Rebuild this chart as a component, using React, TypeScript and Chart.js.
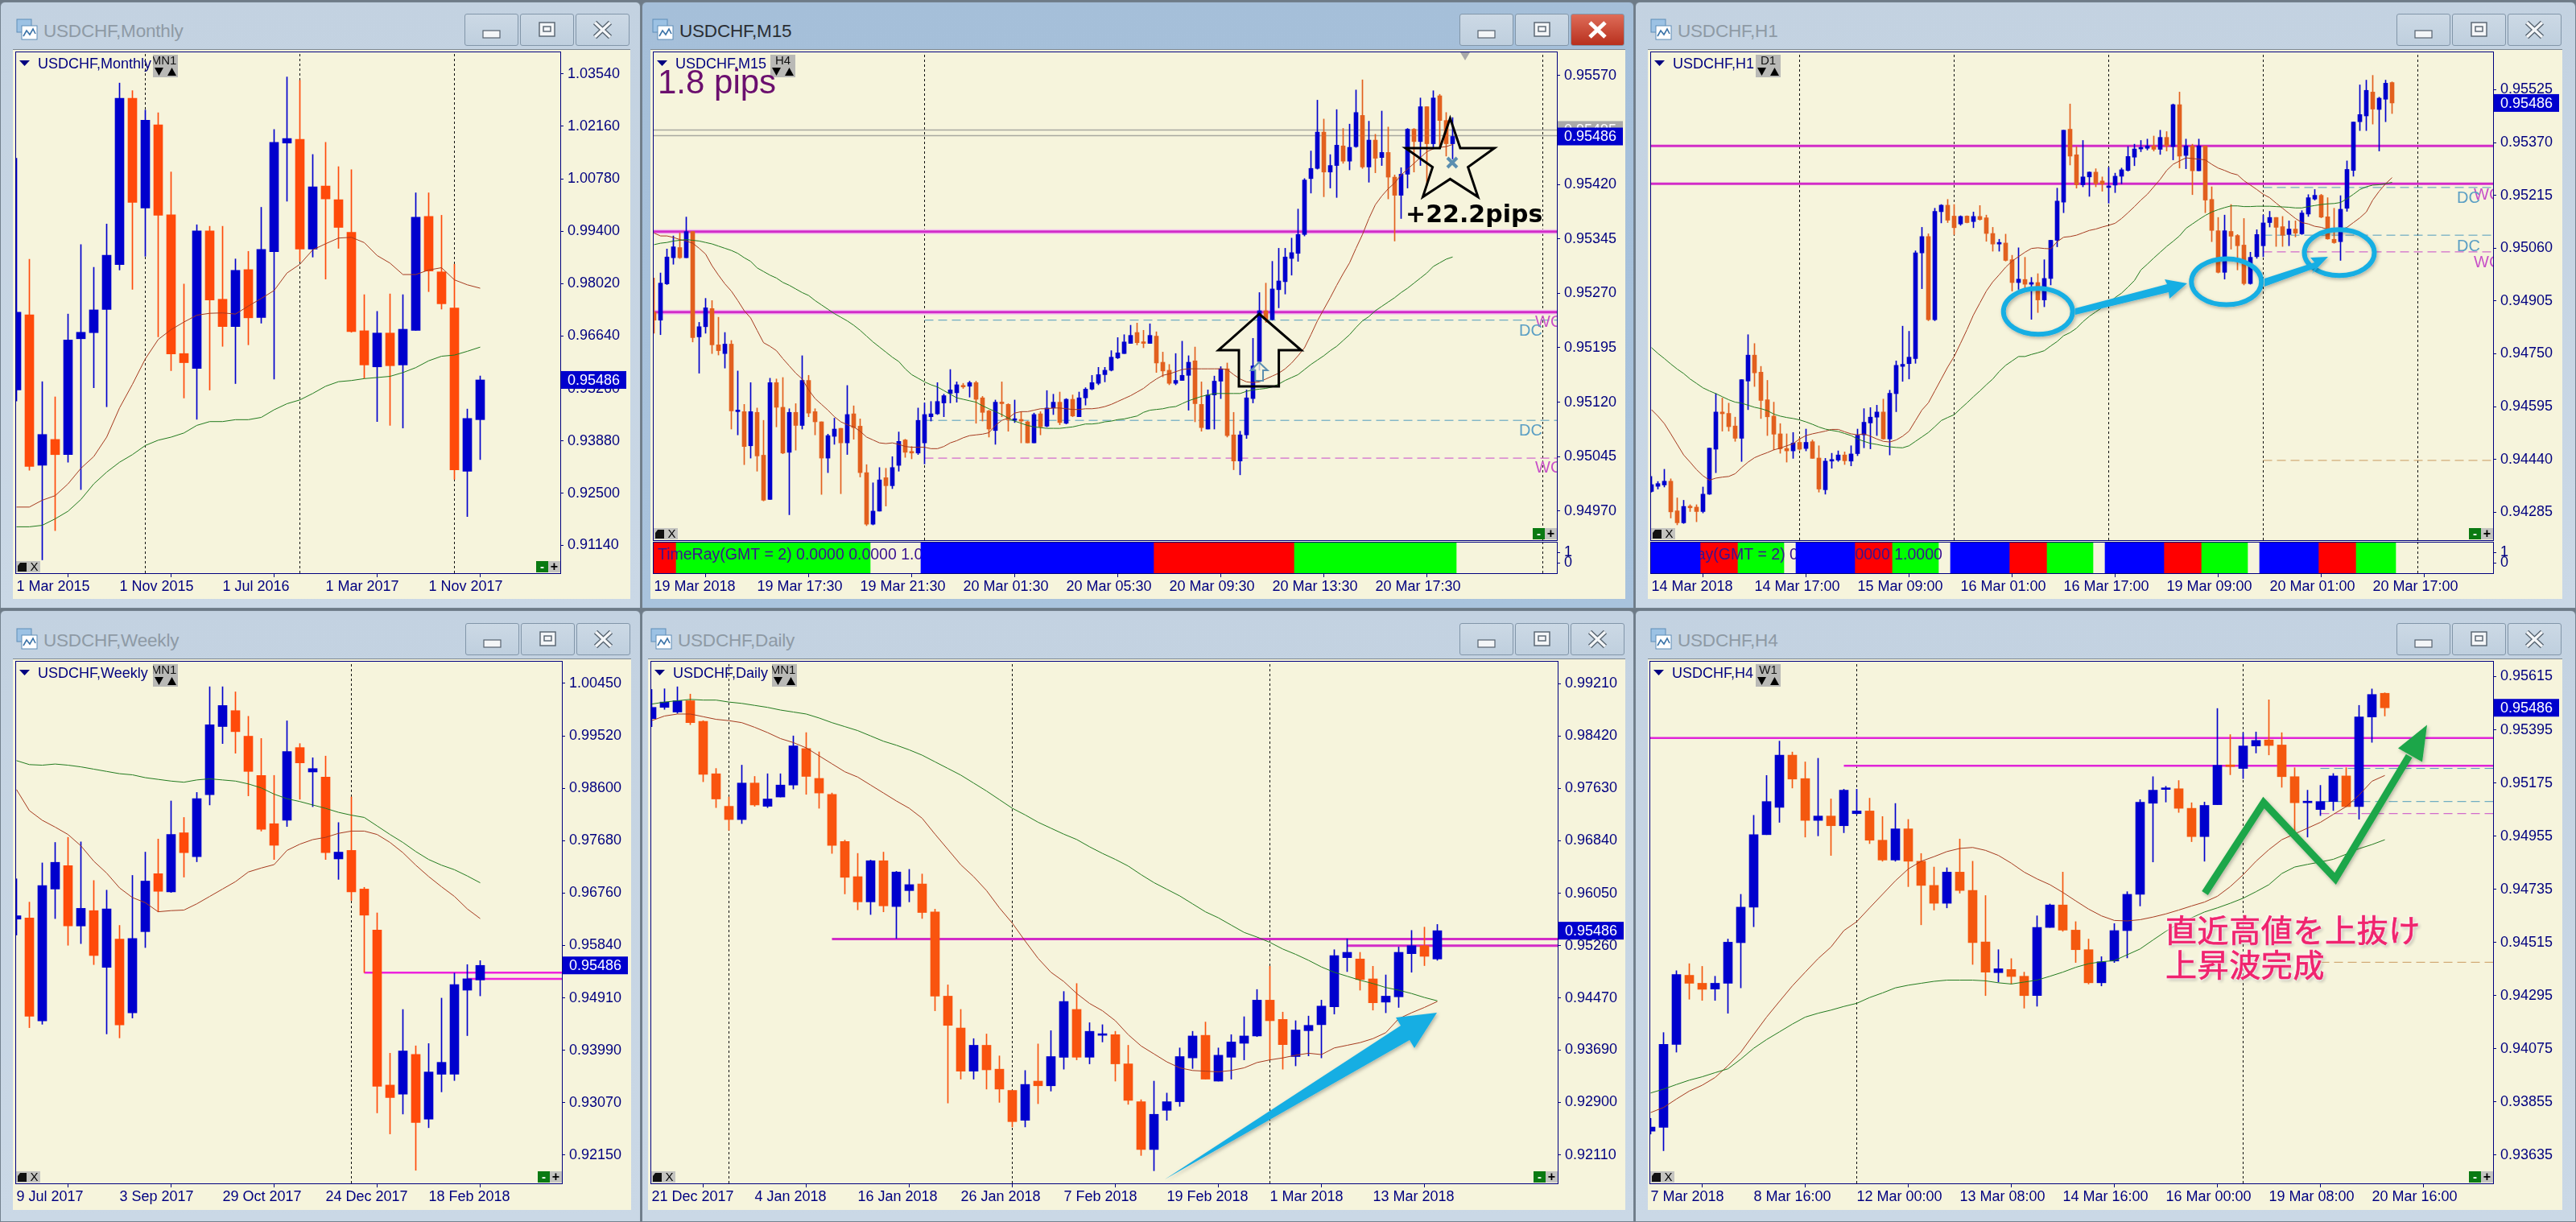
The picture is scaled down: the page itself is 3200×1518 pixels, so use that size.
import React, { useEffect, useRef } from "react";
import { Chart, registerables } from "chart.js";

Chart.register(...registerables);

type Candle = [number, number, number, number]; // open, high, low, close

const LAST_PRICE = 0.95486;
const M15_ASK_PRICE = 0.95495;

/* ---------- Monthly ---------- */
const monthlyCandles: Candle[] = [
  [0.9522,1.0132,0.9493,0.9727],[0.9720,0.9866,0.9311,0.9321],[0.9324,0.9544,0.9075,0.9405],[0.9392,0.9504,0.9152,0.9352],
  [0.9352,0.9722,0.9332,0.9654],[0.9657,0.9905,0.9260,0.9674],[0.9673,0.9845,0.9528,0.9733],[0.9734,0.9959,0.9478,0.9877],
  [0.9852,1.0330,0.9838,1.0290],[1.0290,1.0310,0.9787,1.0016],[1.0001,1.0259,0.9874,1.0232],[1.0220,1.0252,0.9662,0.9982],
  [0.9983,1.0096,0.9573,0.9617],[0.9618,0.9801,0.9501,0.9594],[0.9579,0.9957,0.9445,0.9941],[0.9941,0.9953,0.9522,0.9759],
  [0.9761,0.9953,0.9637,0.9689],[0.9689,0.9867,0.9539,0.9837],[0.9839,0.9887,0.9641,0.9712],[0.9713,1.0003,0.9698,0.9892],
  [0.9886,1.0208,0.9551,1.0174],[1.0172,1.0346,1.0019,1.0184],[1.0182,1.0337,0.9861,0.9893],[0.9893,1.0142,0.9872,1.0057],
  [1.0059,1.0174,0.9814,1.0025],[1.0023,1.0110,0.9895,0.9950],[0.9937,1.0102,0.9674,0.9676],[0.9678,0.9773,0.9553,0.9588],
  [0.9583,0.9729,0.9439,0.9672],[0.9672,0.9775,0.9429,0.9586],[0.9588,0.9773,0.9422,0.9682],[0.9679,1.0041,0.9679,0.9977],
  [0.9979,1.0041,0.9781,0.9835],[0.9833,0.9982,0.9735,0.9749],[0.9738,0.9853,0.9287,0.9312],[0.9308,0.9472,0.9189,0.9447],
  [0.9444,0.9559,0.9339,0.95486],
];
const monthlyFastMa = [0.9214,0.9214,0.9232,0.9244,0.9275,0.9316,0.9347,0.9398,0.9475,0.9537,0.9604,0.9655,0.9681,0.9701,0.9719,0.9724,0.9725,0.9722,0.9743,0.9763,0.9784,0.9830,0.9853,0.9891,0.9907,0.9922,0.9924,0.9910,0.9876,0.9856,0.9826,0.9826,0.9838,0.9844,0.9812,0.9799,0.9790];
const monthlySlowMa = [0.9162,0.9162,0.9166,0.9183,0.9203,0.9234,0.9275,0.9306,0.9332,0.9352,0.9376,0.9390,0.9398,0.9409,0.9429,0.9439,0.9439,0.9444,0.9444,0.9450,0.9470,0.9486,0.9496,0.9513,0.9532,0.9544,0.9547,0.9552,0.9555,0.9558,0.9568,0.9581,0.9599,0.9611,0.9614,0.9624,0.9635];
const monthlyYTicks = [1.0354,1.0216,1.0078,0.994,0.9802,0.9664,0.9526,0.9388,0.925,0.9114];
const monthlyXLabels = ["1 Mar 2015","1 Nov 2015","1 Jul 2016","1 Mar 2017","1 Nov 2017"];

/* ---------- Weekly ---------- */
const weeklyCandles: Candle[] = [
  [0.9630,0.9701,0.9602,0.9636],[0.9632,0.9660,0.9439,0.9459],[0.9451,0.9729,0.9445,0.9689],[0.9683,0.9765,0.9631,0.9730],
  [0.9724,0.9774,0.9584,0.9618],[0.9618,0.9766,0.9587,0.9649],[0.9645,0.9698,0.9550,0.9566],[0.9545,0.9681,0.9428,0.9648],
  [0.9595,0.9619,0.9421,0.9444],[0.9465,0.9707,0.9456,0.9596],[0.9608,0.9748,0.9580,0.9697],[0.9710,0.9771,0.9643,0.9679],
  [0.9678,0.9838,0.9677,0.9779],[0.9782,0.9809,0.9704,0.9747],[0.9740,0.9853,0.9731,0.9842],[0.9849,1.0039,0.9831,0.9972],
  [0.9969,1.0039,0.9939,1.0006],[0.9997,1.0030,0.9922,0.9960],[0.9952,0.9987,0.9847,0.9890],[0.9883,0.9948,0.9785,0.9788],
  [0.9798,0.9883,0.9735,0.9760],[0.9804,0.9979,0.9793,0.9925],[0.9932,0.9939,0.9841,0.9905],[0.9889,0.9914,0.9828,0.9895],
  [0.9880,0.9917,0.9735,0.9747],[0.9736,0.9800,0.9700,0.9748],[0.9751,0.9845,0.9663,0.9678],[0.9683,0.9686,0.9536,0.9637],
  [0.9611,0.9641,0.9289,0.9336],[0.9338,0.9394,0.9252,0.9316],[0.9322,0.9471,0.9287,0.9398],[0.9392,0.9407,0.9188,0.9272],
  [0.9278,0.9411,0.9263,0.9361],[0.9357,0.9491,0.9326,0.9378],[0.9357,0.9535,0.9346,0.9515],[0.9505,0.9550,0.9425,0.9525],
  [0.9523,0.9557,0.9495,0.95486],
];
const weeklyFastMa = [0.9858,0.9821,0.9804,0.9792,0.9779,0.9759,0.9732,0.9711,0.9685,0.9668,0.9659,0.9643,0.9645,0.9646,0.9657,0.9670,0.9683,0.9696,0.9713,0.9720,0.9726,0.9751,0.9762,0.9770,0.9774,0.9781,0.9785,0.9785,0.9779,0.9765,0.9747,0.9725,0.9705,0.9687,0.9670,0.9648,0.9631];
const weeklySlowMa = [0.9909,0.9902,0.9901,0.9903,0.9901,0.9898,0.9894,0.9890,0.9886,0.9884,0.9879,0.9876,0.9873,0.9871,0.9875,0.9877,0.9875,0.9873,0.9868,0.9861,0.9850,0.9842,0.9837,0.9831,0.9825,0.9818,0.9813,0.9809,0.9794,0.9779,0.9765,0.9749,0.9735,0.9725,0.9717,0.9706,0.9694];
const weeklyYTicks = [1.0045,0.9952,0.986,0.9768,0.9676,0.9584,0.9491,0.9399,0.9307,0.9215];
const weeklyXLabels = ["9 Jul 2017","3 Sep 2017","29 Oct 2017","24 Dec 2017","18 Feb 2018"];

/* ---------- Daily ---------- */
const dailyCandles: Candle[] = [
  [0.9868,0.9912,0.9856,0.9885],[0.9885,0.9913,0.9882,0.9893],[0.9878,0.9916,0.9876,0.9895],[0.9895,0.9905,0.9859,0.9862],
  [0.9864,0.9865,0.9773,0.9784],[0.9785,0.9793,0.9734,0.9747],[0.9736,0.9750,0.9700,0.9716],[0.9716,0.9798,0.9710,0.9771],
  [0.9771,0.9781,0.9736,0.9738],[0.9736,0.9785,0.9734,0.9747],[0.9750,0.9785,0.9750,0.9768],[0.9768,0.9842,0.9762,0.9827],
  [0.9823,0.9847,0.9754,0.9781],[0.9778,0.9818,0.9733,0.9756],[0.9754,0.9756,0.9665,0.9677],[0.9683,0.9685,0.9604,0.9629],
  [0.9630,0.9665,0.9580,0.9592],[0.9592,0.9655,0.9573,0.9654],[0.9654,0.9667,0.9577,0.9586],[0.9585,0.9638,0.9537,0.9637],
  [0.9609,0.9641,0.9592,0.9618],[0.9619,0.9634,0.9567,0.9576],[0.9577,0.9581,0.9428,0.9450],[0.9450,0.9467,0.9289,0.9406],
  [0.9402,0.9430,0.9325,0.9337],[0.9337,0.9386,0.9325,0.9376],[0.9376,0.9393,0.9310,0.9339],[0.9340,0.9360,0.9290,0.9310],
  [0.9308,0.9308,0.9253,0.9261],[0.9263,0.9338,0.9253,0.9317],[0.9322,0.9378,0.9288,0.9315],[0.9315,0.9398,0.9307,0.9359],
  [0.9358,0.9457,0.9340,0.9442],[0.9430,0.9469,0.9354,0.9358],[0.9358,0.9410,0.9348,0.9397],[0.9391,0.9407,0.9381,0.9393],
  [0.9392,0.9397,0.9322,0.9348],[0.9348,0.9376,0.9287,0.9293],[0.9291,0.9294,0.9210,0.9219],[0.9219,0.9322,0.9187,0.9272],
  [0.9278,0.9304,0.9263,0.9291],[0.9291,0.9372,0.9284,0.9359],[0.9357,0.9397,0.9341,0.9390],[0.9391,0.9411,0.9325,0.9325],
  [0.9322,0.9372,0.9322,0.9361],[0.9358,0.9392,0.9325,0.9381],[0.9379,0.9419,0.9354,0.9390],[0.9390,0.9460,0.9389,0.9444],
  [0.9444,0.9495,0.9354,0.9413],[0.9415,0.9426,0.9340,0.9377],[0.9359,0.9413,0.9345,0.9399],[0.9398,0.9420,0.9360,0.9406],
  [0.9407,0.9444,0.9357,0.9435],[0.9434,0.9520,0.9423,0.9511],[0.9508,0.9536,0.9487,0.9516],[0.9506,0.9516,0.9459,0.9475],
  [0.9476,0.9495,0.9429,0.9440],[0.9441,0.9482,0.9425,0.9450],[0.9449,0.9524,0.9433,0.9516],[0.9514,0.9549,0.9486,0.9526],
  [0.9526,0.9554,0.9496,0.9510],[0.9506,0.9558,0.9504,0.95486],
];
const dailyFastMa = [0.9865,0.9872,0.9875,0.9875,0.9871,0.9867,0.9865,0.9862,0.9855,0.9847,0.9838,0.9832,0.9824,0.9812,0.9800,0.9788,0.9780,0.9768,0.9756,0.9744,0.9733,0.9718,0.9694,0.9671,0.9648,0.9630,0.9609,0.9583,0.9560,0.9533,0.9507,0.9486,0.9472,0.9454,0.9439,0.9428,0.9413,0.9392,0.9375,0.9363,0.9351,0.9342,0.9338,0.9337,0.9336,0.9338,0.9342,0.9350,0.9354,0.9357,0.9361,0.9364,0.9362,0.9372,0.9376,0.9380,0.9386,0.9395,0.9416,0.9425,0.9433,0.9442];
const dailySlowMa = [0.9890,0.9893,0.9895,0.9897,0.9896,0.9896,0.9893,0.9891,0.9888,0.9885,0.9881,0.9878,0.9875,0.9869,0.9862,0.9856,0.9850,0.9842,0.9834,0.9828,0.9821,0.9813,0.9803,0.9793,0.9783,0.9771,0.9759,0.9746,0.9733,0.9723,0.9712,0.9703,0.9694,0.9686,0.9675,0.9665,0.9656,0.9646,0.9633,0.9621,0.9611,0.9601,0.9589,0.9577,0.9568,0.9557,0.9546,0.9539,0.9531,0.9521,0.9513,0.9504,0.9494,0.9486,0.9480,0.9474,0.9469,0.9463,0.9459,0.9454,0.9448,0.9443];
const dailyYTicks = [0.9921,0.9842,0.9763,0.9684,0.9605,0.9526,0.9447,0.9369,0.929,0.9211];
const dailyXLabels = ["21 Dec 2017","4 Jan 2018","16 Jan 2018","26 Jan 2018","7 Feb 2018","19 Feb 2018","1 Mar 2018","13 Mar 2018"];

/* ---------- H4 ---------- */
const h4Candles: Candle[] = [
  [0.93734,0.93787,0.93722,0.93751],[0.9375,0.94142,0.93653,0.94093],[0.94093,0.94398,0.94061,0.94382],[0.94379,0.94427,0.9428,0.94346],
  [0.94346,0.94416,0.94275,0.94321],[0.94322,0.94375,0.94275,0.94346],[0.94346,0.94529,0.94222,0.94516],[0.94514,0.94714,0.94327,0.94661],
  [0.94661,0.95041,0.9458,0.94961],[0.94961,0.95206,0.94961,0.95098],[0.95074,0.95348,0.95012,0.9529],[0.9529,0.95303,0.95154,0.95191],
  [0.95193,0.95262,0.94951,0.9502],[0.9502,0.95277,0.94956,0.95038],[0.95038,0.95109,0.94875,0.94998],[0.94998,0.95149,0.94969,0.95145],
  [0.95048,0.95149,0.95045,0.95059],[0.95059,0.95112,0.94924,0.94938],[0.94938,0.95036,0.94851,0.94856],[0.94856,0.9509,0.94851,0.94985],
  [0.94985,0.95024,0.94746,0.94851],[0.94851,0.94883,0.94588,0.94751],[0.94751,0.94827,0.94649,0.94677],[0.94677,0.94824,0.94658,0.94806],
  [0.94806,0.94943,0.94719,0.9473],[0.9473,0.94851,0.94424,0.94514],[0.94517,0.94709,0.94295,0.94392],[0.9439,0.94485,0.94351,0.94406],
  [0.94403,0.94448,0.94343,0.94374],[0.94375,0.94392,0.94243,0.94295],[0.94295,0.94625,0.94251,0.94577],[0.94577,0.94674,0.94577,0.9467],
  [0.9467,0.94806,0.94561,0.94566],[0.94566,0.94601,0.94432,0.94485],[0.94485,0.94529,0.94343,0.94348],[0.94348,0.94456,0.94335,0.94435],
  [0.94438,0.94593,0.94432,0.94564],[0.94564,0.94725,0.94451,0.94714],[0.94714,0.95106,0.94666,0.95095],[0.95091,0.95201,0.94848,0.95145],
  [0.95148,0.95161,0.95096,0.95153],[0.95151,0.95185,0.95053,0.9507],[0.9507,0.95093,0.94932,0.94953],[0.94953,0.95096,0.94851,0.95082],
  [0.95085,0.95483,0.95085,0.95248],[0.95249,0.95375,0.95209,0.95243],[0.95235,0.95383,0.95193,0.95328],[0.95328,0.95386,0.95299,0.95351],
  [0.95353,0.95519,0.95291,0.9533],[0.95332,0.95383,0.95157,0.95201],[0.95201,0.95238,0.94956,0.95093],[0.95093,0.95145,0.94951,0.95098],
  [0.95065,0.95165,0.9504,0.95098],[0.95098,0.95214,0.95061,0.95204],[0.95204,0.95238,0.95077,0.95077],[0.95077,0.95496,0.95025,0.95448],
  [0.95448,0.95564,0.95343,0.95541],[0.95546,0.95548,0.95452,0.95486],
];
const h4FastMa = [0.93811,0.93832,0.93867,0.939,0.93924,0.93956,0.94005,0.94061,0.94134,0.94206,0.94271,0.94335,0.94392,0.94448,0.94496,0.94564,0.94601,0.94658,0.94714,0.9477,0.94819,0.94851,0.9487,0.94891,0.94904,0.94908,0.94896,0.94875,0.94843,0.94806,0.94778,0.94754,0.94722,0.94687,0.94653,0.94625,0.94606,0.94604,0.94609,0.9462,0.94633,0.94649,0.94666,0.94682,0.94706,0.94746,0.94795,0.94851,0.94899,0.9494,0.94964,0.94988,0.95012,0.95045,0.95077,0.95125,0.95182,0.95206];
const h4SlowMa = [0.93892,0.93908,0.93927,0.93945,0.93959,0.93976,0.93992,0.94032,0.94077,0.94113,0.94145,0.94177,0.94206,0.94222,0.94235,0.9425,0.94263,0.94287,0.94306,0.94327,0.94338,0.94346,0.94354,0.94359,0.94359,0.94359,0.94356,0.94348,0.94343,0.94351,0.94359,0.94375,0.94392,0.94412,0.94427,0.94435,0.9444,0.94464,0.94488,0.94525,0.94561,0.94593,0.94617,0.94641,0.94658,0.94677,0.94698,0.94725,0.94754,0.948,0.94827,0.94838,0.94848,0.94859,0.9488,0.94903,0.9492,0.9494];
const h4YTicks = [0.95615,0.95395,0.95175,0.94955,0.94735,0.94515,0.94295,0.94075,0.93855,0.93635];
const h4XLabels = ["7 Mar 2018","8 Mar 16:00","12 Mar 00:00","13 Mar 08:00","14 Mar 16:00","16 Mar 00:00","19 Mar 08:00","20 Mar 16:00"];

/* ---------- M15 ---------- */
const m15Candles: Candle[] = [
  [0.95244,0.95291,0.95215,0.95233],[0.95233,0.95298,0.95213,0.95284],[0.95283,0.95331,0.95282,0.9532],[0.95319,0.95349,0.9531,0.95334],
  [0.95333,0.95353,0.95318,0.95319],[0.95319,0.95375,0.95319,0.95355],[0.95355,0.95355,0.95203,0.95209],[0.9521,0.9523,0.9516,0.95224],
  [0.95224,0.95263,0.95215,0.9525],[0.95249,0.9526,0.95187,0.95199],[0.95199,0.95237,0.95185,0.95191],[0.95187,0.95216,0.95167,0.952],
  [0.952,0.95205,0.95083,0.95108],[0.95107,0.95163,0.95075,0.95108],[0.95107,0.95117,0.95034,0.95059],[0.9506,0.95147,0.95043,0.95107],
  [0.95106,0.95112,0.95025,0.95046],[0.95047,0.95095,0.94984,0.94985],[0.94986,0.95153,0.94986,0.95147],[0.95147,0.95152,0.95086,0.95113],
  [0.95113,0.95154,0.95049,0.9505],[0.95051,0.95111,0.94965,0.95106],[0.95106,0.95118,0.95054,0.95088],[0.95088,0.95184,0.95083,0.9515],
  [0.9515,0.95157,0.951,0.95105],[0.95107,0.95111,0.95075,0.95093],[0.95093,0.95093,0.94993,0.95043],[0.95043,0.95076,0.95023,0.95074],
  [0.95073,0.95098,0.95062,0.95083],[0.95084,0.95084,0.94994,0.95064],[0.95064,0.95143,0.95048,0.95103],[0.95104,0.95115,0.95069,0.95085],
  [0.95087,0.95097,0.95017,0.95023],[0.95023,0.95034,0.9495,0.94952],[0.94952,0.95009,0.94951,0.9497],[0.9497,0.9503,0.9497,0.95013],
  [0.95016,0.95029,0.94977,0.95005],[0.95005,0.95045,0.95001,0.9503],[0.95033,0.95079,0.95025,0.95066],[0.95068,0.95069,0.95044,0.95051],
  [0.95052,0.95059,0.95042,0.9505],[0.9505,0.95112,0.95048,0.95095],[0.95064,0.95119,0.95035,0.95103],[0.951,0.95121,0.95094,0.95104],
  [0.95104,0.95147,0.95103,0.95121],[0.95119,0.95131,0.951,0.95129],[0.95132,0.95165,0.95119,0.95137],[0.95133,0.95148,0.9512,0.95144],
  [0.95143,0.95146,0.95139,0.95141],[0.95142,0.95149,0.95127,0.95147],[0.95147,0.95149,0.95091,0.95124],[0.95126,0.95128,0.95094,0.95106],
  [0.95108,0.95109,0.95072,0.95083],[0.95081,0.95123,0.95062,0.9512],[0.95119,0.95148,0.951,0.95118],[0.95117,0.95118,0.9508,0.95096],
  [0.95095,0.95123,0.95092,0.95097],[0.95096,0.95107,0.95064,0.95094],[0.95093,0.95094,0.95064,0.95064],[0.95064,0.95105,0.95064,0.95103],
  [0.95104,0.95107,0.95075,0.95086],[0.95087,0.95136,0.95086,0.95112],[0.95112,0.95131,0.95103,0.9512],[0.9512,0.95134,0.95089,0.95092],
  [0.95091,0.95125,0.9509,0.95124],[0.95124,0.9513,0.951,0.95101],[0.951,0.95134,0.951,0.95126],[0.95126,0.9514,0.95116,0.95138],
  [0.95138,0.95157,0.95137,0.95147],[0.95146,0.95168,0.95144,0.95158],[0.95158,0.95168,0.95148,0.95164],[0.95164,0.95191,0.95163,0.95182],
  [0.95181,0.95209,0.9518,0.95188],[0.95187,0.95213,0.95187,0.95203],[0.95201,0.95226,0.95201,0.95212],[0.95216,0.95229,0.95199,0.95202],
  [0.95202,0.95219,0.95195,0.95201],[0.95201,0.95228,0.95201,0.95212],[0.95211,0.95217,0.95161,0.95174],[0.95175,0.95189,0.95155,0.95163],
  [0.95164,0.95172,0.95144,0.95146],[0.95146,0.95187,0.95144,0.9515],[0.9515,0.95204,0.9515,0.95157],[0.95157,0.95184,0.95109,0.95175],
  [0.95177,0.95196,0.95093,0.95118],[0.95117,0.95148,0.9508,0.95085],[0.95083,0.95137,0.95083,0.9513],[0.9513,0.95156,0.95083,0.95149],
  [0.95149,0.95169,0.95125,0.95166],[0.95166,0.95174,0.95072,0.95074],[0.95075,0.95106,0.95027,0.95039],[0.95039,0.9508,0.9502,0.95075],
  [0.95075,0.95137,0.9507,0.95126],[0.95125,0.95208,0.95119,0.9517],[0.95176,0.95271,0.95164,0.95246],[0.95246,0.95284,0.9523,0.95234],
  [0.95234,0.95314,0.95233,0.95276],[0.95275,0.95332,0.9525,0.95287],[0.95286,0.95332,0.95269,0.9532],[0.95318,0.95346,0.95295,0.95326],
  [0.95325,0.95386,0.95314,0.95351],[0.95351,0.95428,0.95349,0.95426],[0.95428,0.95466,0.95408,0.95442],[0.95442,0.95536,0.95441,0.95492],
  [0.95492,0.9551,0.95403,0.95437],[0.95437,0.95461,0.95415,0.95446],[0.95446,0.95523,0.95402,0.95474],[0.95473,0.95497,0.95449,0.95452],
  [0.95452,0.95503,0.9544,0.95471],[0.95472,0.9555,0.95471,0.95519],[0.95515,0.95564,0.95442,0.95444],[0.95444,0.95507,0.95423,0.95481],
  [0.95481,0.95489,0.95436,0.95456],[0.95457,0.95521,0.95446,0.95464],[0.95464,0.95499,0.954,0.9543],[0.9543,0.95433,0.95342,0.95405],
  [0.95405,0.95443,0.95373,0.95434],[0.95434,0.95497,0.95415,0.95496],[0.95496,0.95497,0.95437,0.95479],[0.95479,0.95539,0.95446,0.95527],
  [0.95527,0.95527,0.95418,0.95476],[0.95476,0.95549,0.95469,0.95539],[0.95542,0.95544,0.95469,0.95508],[0.95508,0.95519,0.95459,0.95476],
  [0.95476,0.95512,0.95455,0.95486],
];
const m15FastMa = [0.95353,0.95349,0.95349,0.95347,0.95344,0.95342,0.95339,0.95332,0.95324,0.95308,0.95295,0.95283,0.95273,0.9526,0.95246,0.95236,0.95219,0.95202,0.95197,0.95191,0.9518,0.9517,0.9516,0.95152,0.95137,0.95125,0.95117,0.95109,0.951,0.95093,0.95089,0.95086,0.9508,0.95072,0.95068,0.95064,0.95063,0.95064,0.95062,0.95059,0.95058,0.95058,0.95058,0.95056,0.95056,0.95059,0.95064,0.95067,0.95071,0.95074,0.95075,0.95076,0.95078,0.95088,0.95095,0.95098,0.95105,0.95107,0.95107,0.95109,0.95111,0.95111,0.95112,0.95112,0.95111,0.9511,0.9511,0.95111,0.95111,0.95112,0.95114,0.95117,0.95121,0.95125,0.95129,0.95134,0.95139,0.95146,0.95152,0.95157,0.95159,0.95162,0.95165,0.95166,0.95166,0.95166,0.95166,0.95166,0.95166,0.95165,0.95158,0.95152,0.95148,0.95147,0.95148,0.95152,0.95156,0.9516,0.95166,0.95174,0.95184,0.95195,0.95213,0.95232,0.95248,0.95264,0.95281,0.95297,0.95312,0.95332,0.95351,0.95373,0.95392,0.95404,0.95414,0.95422,0.95433,0.95441,0.95449,0.95457,0.95465,0.95469,0.95471,0.95472,0.95475];
const m15SlowMa = [0.95337,0.95339,0.9534,0.95342,0.95343,0.95344,0.95343,0.95342,0.9534,0.95338,0.95335,0.95332,0.95329,0.95325,0.95319,0.95314,0.95305,0.953,0.95295,0.95291,0.95285,0.95281,0.95276,0.95271,0.95267,0.9526,0.95254,0.95248,0.95242,0.95237,0.95232,0.95226,0.95219,0.95211,0.95203,0.95196,0.95189,0.95182,0.95176,0.95166,0.95158,0.95153,0.95148,0.95144,0.95141,0.95136,0.95131,0.95126,0.95124,0.95122,0.9512,0.95115,0.95111,0.95107,0.95103,0.95098,0.95094,0.95091,0.95088,0.95086,0.95085,0.95084,0.95084,0.95084,0.95085,0.95086,0.95088,0.9509,0.9509,0.95091,0.95093,0.95094,0.95096,0.95097,0.95099,0.95101,0.95106,0.95109,0.9511,0.95111,0.95113,0.95114,0.95118,0.95122,0.95125,0.95128,0.9513,0.95132,0.95132,0.95132,0.95132,0.95132,0.95135,0.95137,0.95138,0.95139,0.95141,0.95145,0.9515,0.95154,0.95158,0.95165,0.95172,0.95178,0.95184,0.95191,0.95197,0.95205,0.95213,0.95223,0.95232,0.95238,0.95246,0.95252,0.95258,0.95264,0.95271,0.95277,0.95284,0.95291,0.95298,0.95307,0.95312,0.95317,0.9532];
const m15YTicks = [0.9557,0.95495,0.9542,0.95345,0.9527,0.95195,0.9512,0.95045,0.9497];
const m15XLabels = ["19 Mar 2018","19 Mar 17:30","19 Mar 21:30","20 Mar 01:30","20 Mar 05:30","20 Mar 09:30","20 Mar 13:30","20 Mar 17:30"];
const m15TimeRay: [number, number, string][] = [[0,3,"red"],[4,33,"green"],[42,77,"blue"],[78,99,"red"],[100,124,"green"]];

/* ---------- H1 ---------- */
const h1Candles: Candle[] = [
  [0.94346,0.9439,0.94344,0.94366],[0.94361,0.94375,0.94353,0.94369],[0.94365,0.94411,0.94359,0.94376],[0.94376,0.94383,0.94268,0.94286],
  [0.94289,0.94327,0.94248,0.94254],[0.94254,0.9432,0.94252,0.94302],[0.94301,0.94307,0.94287,0.94298],[0.943,0.94307,0.94257,0.94287],
  [0.94287,0.94359,0.94283,0.94338],[0.94338,0.94473,0.94337,0.94473],[0.9447,0.94633,0.94401,0.94579],[0.94579,0.9462,0.94523,0.94574],
  [0.94575,0.94605,0.94523,0.94536],[0.94538,0.94564,0.94493,0.94502],[0.94502,0.94674,0.94434,0.94674],[0.9467,0.94806,0.94586,0.94746],
  [0.94746,0.9478,0.94654,0.94694],[0.94696,0.94713,0.9456,0.94613],[0.94615,0.94672,0.9451,0.94565],[0.94567,0.94608,0.94468,0.94514],
  [0.94515,0.94545,0.94458,0.94471],[0.94472,0.94515,0.94432,0.94465],[0.94465,0.94519,0.94443,0.94488],[0.9449,0.94502,0.94467,0.9447],
  [0.94472,0.94529,0.94465,0.9449],[0.94492,0.94497,0.94443,0.94443],[0.94444,0.9448,0.94344,0.94353],[0.94351,0.94443,0.94338,0.94435],
  [0.94435,0.94458,0.94414,0.94439],[0.94438,0.94465,0.94434,0.94453],[0.94453,0.94462,0.94425,0.94436],[0.94435,0.9448,0.94421,0.94456],
  [0.94457,0.94529,0.94451,0.94511],[0.94512,0.94589,0.94474,0.94549],[0.94547,0.94592,0.94471,0.94564],[0.94564,0.94599,0.9451,0.94579],
  [0.94579,0.94617,0.94499,0.945],[0.945,0.94643,0.94453,0.94634],[0.94633,0.94729,0.9458,0.94716],[0.94713,0.94831,0.94669,0.94719],
  [0.94721,0.94816,0.94676,0.9474],[0.94736,0.95052,0.94722,0.95046],[0.95046,0.95121,0.94941,0.95094],[0.95094,0.95102,0.94847,0.9485],
  [0.9485,0.95177,0.94847,0.95168],[0.95167,0.95188,0.95134,0.95186],[0.95186,0.95203,0.95135,0.95142],[0.95154,0.95188,0.951,0.9512],
  [0.95131,0.95155,0.95127,0.95153],[0.95154,0.95155,0.95134,0.95135],[0.95138,0.95166,0.9512,0.95153],[0.95153,0.95185,0.95142,0.95144],
  [0.95149,0.95157,0.9508,0.95103],[0.95103,0.95121,0.95051,0.95072],[0.95072,0.95086,0.95051,0.95075],[0.95075,0.95101,0.95022,0.95024],
  [0.95026,0.95039,0.94934,0.94959],[0.94959,0.95061,0.94939,0.94969],[0.94968,0.95033,0.94943,0.94954],[0.94954,0.94974,0.94851,0.94959],
  [0.94959,0.94985,0.94871,0.94908],[0.94908,0.95026,0.94888,0.94971],[0.94971,0.95083,0.94952,0.95083],[0.95083,0.95236,0.95064,0.95198],
  [0.95195,0.95406,0.95164,0.95406],[0.95409,0.95483,0.95304,0.9533],[0.95334,0.95358,0.95236,0.95246],[0.95246,0.95376,0.9524,0.95269],
  [0.95269,0.95284,0.95212,0.95283],[0.95283,0.95293,0.9524,0.95249],[0.95257,0.95269,0.95227,0.95248],[0.95238,0.95297,0.95192,0.95241],
  [0.95245,0.9528,0.95223,0.95271],[0.95271,0.95295,0.95249,0.9529],[0.95288,0.95358,0.95286,0.95329],[0.95327,0.95365,0.95302,0.95351],
  [0.95351,0.95376,0.95343,0.95355],[0.95353,0.9538,0.95348,0.9536],[0.9536,0.95389,0.95345,0.9535],[0.9535,0.95406,0.95335,0.95385],
  [0.95385,0.95402,0.95345,0.9536],[0.95358,0.95483,0.95319,0.95481],[0.95481,0.95518,0.95295,0.9533],[0.95332,0.9538,0.95293,0.9536],
  [0.9536,0.95365,0.95217,0.95287],[0.95287,0.9538,0.95287,0.9536],[0.9536,0.9536,0.95164,0.95201],[0.95203,0.9524,0.95079,0.95112],
  [0.95111,0.9515,0.94987,0.94989],[0.94989,0.95157,0.94969,0.95111],[0.95109,0.95188,0.95057,0.95095],[0.95097,0.951,0.94996,0.95067],
  [0.95069,0.95147,0.94952,0.94956],[0.94956,0.95048,0.94954,0.95033],[0.95035,0.95114,0.9503,0.951],[0.95067,0.95157,0.95035,0.95134],
  [0.95135,0.95168,0.95122,0.9515],[0.9515,0.9515,0.95065,0.95121],[0.95123,0.95153,0.95065,0.95098],[0.951,0.9514,0.95067,0.95116],
  [0.95116,0.9514,0.95093,0.95104],[0.95102,0.9517,0.951,0.95163],[0.9516,0.95217,0.95153,0.95208],[0.95204,0.95232,0.95201,0.95215],
  [0.95215,0.95218,0.95149,0.95151],[0.95152,0.95208,0.95086,0.95087],[0.95086,0.95177,0.95074,0.95076],[0.95079,0.95214,0.95024,0.95174],
  [0.95177,0.95316,0.95168,0.95291],[0.95288,0.9543,0.95271,0.9543],[0.95431,0.95539,0.95405,0.95452],[0.95448,0.95553,0.95405,0.95523],
  [0.95518,0.95567,0.95424,0.95468],[0.95467,0.95503,0.95345,0.955],[0.95497,0.95553,0.95431,0.95544],[0.95546,0.95548,0.95455,0.95486],
];
const h1FastMa = [0.94586,0.94567,0.94545,0.94515,0.94484,0.94453,0.94432,0.9441,0.94392,0.94379,0.94385,0.94388,0.9439,0.94398,0.94416,0.94432,0.94445,0.94453,0.9446,0.94468,0.94473,0.9448,0.94486,0.945,0.9451,0.94515,0.94519,0.94523,0.94528,0.94528,0.94521,0.94515,0.94512,0.94515,0.94508,0.945,0.94493,0.94491,0.94497,0.94508,0.94523,0.94554,0.94585,0.94606,0.94641,0.94676,0.94711,0.94742,0.94781,0.94821,0.94864,0.94899,0.94934,0.94961,0.94982,0.95004,0.95022,0.95035,0.95048,0.95059,0.95061,0.95059,0.95058,0.95079,0.95092,0.95094,0.95098,0.95105,0.95112,0.95116,0.95122,0.95127,0.95133,0.95147,0.95164,0.95182,0.95201,0.95218,0.9524,0.95262,0.95288,0.95306,0.95316,0.95325,0.95323,0.95321,0.95319,0.95306,0.95295,0.95288,0.9528,0.95275,0.95258,0.95245,0.95232,0.95218,0.95208,0.95192,0.95177,0.95162,0.95147,0.95135,0.95131,0.95124,0.95121,0.95115,0.95112,0.95114,0.95121,0.95135,0.95149,0.95166,0.95201,0.95227,0.95249,0.95267];
const h1SlowMa = [0.94768,0.94751,0.94736,0.9472,0.94705,0.94692,0.94676,0.94663,0.9465,0.94641,0.94633,0.94624,0.94615,0.94608,0.94605,0.94599,0.94593,0.94589,0.94583,0.94573,0.94567,0.94563,0.9456,0.94556,0.9455,0.94543,0.94535,0.94529,0.94525,0.94522,0.94516,0.9451,0.945,0.94493,0.94487,0.94484,0.9448,0.94477,0.94475,0.94474,0.9448,0.94493,0.94506,0.94519,0.94536,0.94554,0.94563,0.94571,0.94589,0.94606,0.94624,0.94641,0.94659,0.94676,0.94698,0.94716,0.94729,0.94742,0.94742,0.94748,0.94753,0.94759,0.94773,0.94786,0.94803,0.94812,0.94825,0.94844,0.9486,0.94873,0.94886,0.94899,0.94915,0.94928,0.94946,0.94965,0.94996,0.95013,0.95031,0.95048,0.95065,0.9508,0.95096,0.95118,0.95131,0.95144,0.95156,0.95166,0.95173,0.95179,0.95184,0.95184,0.95182,0.95182,0.95183,0.95183,0.95183,0.95182,0.95181,0.9518,0.95178,0.95178,0.95182,0.95185,0.95188,0.9519,0.95191,0.95194,0.95205,0.95218,0.95232,0.9524,0.95245,0.95246,0.95249,0.95253];
const h1YTicks = [0.95525,0.9537,0.95215,0.9506,0.94905,0.9475,0.94595,0.9444,0.94285];
const h1XLabels = ["14 Mar 2018","14 Mar 17:00","15 Mar 09:00","16 Mar 01:00","16 Mar 17:00","19 Mar 09:00","20 Mar 01:00","20 Mar 17:00"];
const h1TimeRay: [number, number, string][] = [[0,7,"blue"],[8,13,"red"],[14,20,"green"],[23,31,"blue"],[32,37,"red"],[38,44,"green"],[47,55,"blue"],[56,61,"red"],[62,68,"green"],[71,79,"blue"],[80,85,"red"],[86,92,"green"],[95,103,"blue"],[104,109,"red"],[110,115,"green"]];

const timeRayLegend = "TimeRay(GMT = 2) 0.0000 0.0000 1.0000";

type Level = { price: number; from?: number; color: string; width: number; dash?: number[] };

type Panel = {
  key: string; title: string; tf: string; active?: boolean;
  win: { x: number; y: number; w: number; h: number };
  cream: { x: number; y: number; r: number; b: number };
  plot: { x: number; y: number; w: number; h: number };
  sub?: { y: number; h: number; ray: [number, number, string][]; textX: number };
  step: number; body: number; down: string;
  yMin: number; yMax: number; yTicks: number[];
  xEvery: number; xLabels: string[]; seps: number[];
  candles: Candle[]; fast: number[]; slow: number[]; levels: Level[];
  titleX: number; boxX: number; ask?: number;
};

const PINK = "#D22CC8";
const TEAL = "#4E9BBC";
const MAG = "#C848C8";
const TAN = "#C99A5E";
const dash = [11, 6];

const panels: Panel[] = [
  { key: "mn", title: "USDCHF,Monthly", tf: "MN1", win: { x: 0, y: 2, w: 796, h: 754 }, cream: { x: 16, y: 61, r: 783, b: 744 },
    plot: { x: 19, y: 64, w: 677, h: 648 }, step: 16, body: 11, down: "#FF4A0A", yMin: 0.9040, yMax: 1.0413, yTicks: monthlyYTicks,
    xEvery: 8, xLabels: monthlyXLabels, seps: [10, 22, 34], candles: monthlyCandles, fast: monthlyFastMa, slow: monthlySlowMa, levels: [], titleX: 54, boxX: 190 },
  { key: "m15", title: "USDCHF,M15", tf: "H4", active: true, win: { x: 797, y: 2, w: 1233, h: 754 }, cream: { x: 808, y: 61, r: 2019, b: 744 },
    plot: { x: 811, y: 64, w: 1123, h: 607 }, sub: { y: 673, h: 39, ray: m15TimeRay, textX: 6 }, step: 8, body: 5, down: "#E2601E",
    yMin: 0.9493, yMax: 0.95603, yTicks: m15YTicks, xEvery: 16, xLabels: m15XLabels, seps: [42, 138], candles: m15Candles, fast: m15FastMa, slow: m15SlowMa,
    levels: [
      { price: 0.95495, color: "#A8A8A0", width: 1.5 }, { price: 0.95487, color: "#A8A8A0", width: 1.5 },
      { price: 0.95355, color: PINK, width: 3 }, { price: 0.95244, color: PINK, width: 3 },
      { price: 0.95355, color: "#F3C4EF", width: 6 }, { price: 0.95244, color: "#F3C4EF", width: 6 },
      { price: 0.95233, from: 42, color: TEAL, width: 1, dash }, { price: 0.95095, from: 42, color: TEAL, width: 1, dash }, { price: 0.95043, from: 42, color: MAG, width: 1, dash },
    ], titleX: 844, boxX: 957, ask: M15_ASK_PRICE },
  { key: "h1", title: "USDCHF,H1", tf: "D1", win: { x: 2031, y: 2, w: 1169, h: 754 }, cream: { x: 2047, y: 61, r: 3183, b: 744 },
    plot: { x: 2050, y: 64, w: 1047, h: 607 }, sub: { y: 673, h: 39, ray: h1TimeRay, textX: 1 }, step: 8, body: 5, down: "#E2601E",
    yMin: 0.94203, yMax: 0.95637, yTicks: h1YTicks, xEvery: 16, xLabels: h1XLabels, seps: [23, 47, 71, 95, 119], candles: h1Candles, fast: h1FastMa, slow: h1SlowMa,
    levels: [
      { price: 0.9536, color: PINK, width: 3 }, { price: 0.95249, color: PINK, width: 3 },
      { price: 0.95238, from: 95, color: TEAL, width: 1, dash }, { price: 0.95098, from: 95, color: TEAL, width: 1, dash }, { price: 0.95049, from: 95, color: MAG, width: 1, dash }, { price: 0.94437, from: 95, color: TAN, width: 1, dash },
    ], titleX: 2084, boxX: 2181 },
  { key: "w1", title: "USDCHF,Weekly", tf: "MN1", win: { x: 0, y: 758, w: 796, h: 760 }, cream: { x: 16, y: 818, r: 784, b: 1503 },
    plot: { x: 19, y: 821, w: 679, h: 649 }, step: 16, body: 11, down: "#FF4A0A", yMin: 0.9165, yMax: 1.00845, yTicks: weeklyYTicks,
    xEvery: 8, xLabels: weeklyXLabels, seps: [26], candles: weeklyCandles, fast: weeklyFastMa, slow: weeklySlowMa,
    levels: [{ price: 0.9536, from: 27, color: "#EE22DD", width: 2.5 }, { price: 0.9525, from: 35, color: "#EE22DD", width: 2.5 }], titleX: 54, boxX: 190 },
  { key: "d1", title: "USDCHF,Daily", tf: "MN1", win: { x: 797, y: 758, w: 1233, h: 760 }, cream: { x: 805, y: 818, r: 2019, b: 1503 },
    plot: { x: 808, y: 821, w: 1127, h: 649 }, step: 16, body: 11, down: "#F9540F", yMin: 0.9168, yMax: 0.9955, yTicks: dailyYTicks,
    xEvery: 8, xLabels: dailyXLabels, seps: [6, 28, 48], candles: dailyCandles, fast: dailyFastMa, slow: dailySlowMa,
    levels: [{ price: 0.9536, from: 14, color: PINK, width: 3 }, { price: 0.9526, from: 54, color: PINK, width: 3 }], titleX: 842, boxX: 959 },
  { key: "h4", title: "USDCHF,H4", tf: "W1", win: { x: 2031, y: 758, w: 1169, h: 760 }, cream: { x: 2047, y: 818, r: 3183, b: 1503 },
    plot: { x: 2049, y: 821, w: 1048, h: 649 }, step: 16, body: 11, down: "#F4580F", yMin: 0.93518, yMax: 0.9568, yTicks: h4YTicks,
    xEvery: 8, xLabels: h4XLabels, seps: [16, 46], candles: h4Candles, fast: h4FastMa, slow: h4SlowMa,
    levels: [
      { price: 0.95361, color: "#E024D8", width: 2.5 }, { price: 0.95246, from: 15, color: "#E024D8", width: 2.5 },
      { price: 0.95235, from: 52, color: TEAL, width: 1, dash }, { price: 0.95098, from: 52, color: TEAL, width: 1, dash }, { price: 0.95048, from: 52, color: MAG, width: 1, dash }, { price: 0.94433, from: 52, color: TAN, width: 1, dash },
    ], titleX: 2084, boxX: 2181 },
];

const UP = "#0000CD";
const NAVY = "#000080";
const CREAM = "#F6F4DC";
const FONT = '"Liberation Sans", Arial, sans-serif';
const AXIS_W = 87;

function xBounds(p: Panel) {
  const xMin = -1.5 / p.step;
  return { xMin, xMax: xMin + p.plot.w / p.step };
}

function xAxis(p: Panel, height: number) {
  const { xMin, xMax } = xBounds(p);
  return {
    type: "linear", min: xMin, max: xMax, offset: false,
    afterBuildTicks: (s: any) => { s.ticks = p.xLabels.map((_, i) => ({ value: i * p.xEvery })); },
    afterFit: (s: any) => { s.height = height; s.paddingLeft = 0; s.paddingRight = 0; },
    border: { display: false },
    grid: { drawOnChartArea: false, drawTicks: true, tickLength: 5, tickColor: NAVY },
    ticks: { autoSkip: false, maxRotation: 0, minRotation: 0, align: "start", padding: 1, color: NAVY, font: { family: FONT, size: 18 },
      callback: (_: any, i: number) => p.xLabels[i] },
  };
}

function yAxis(min: number, max: number, ticks: number[], fmt: (v: number) => string) {
  return {
    type: "linear", position: "right", min, max,
    afterBuildTicks: (s: any) => { s.ticks = ticks.map((v) => ({ value: v })); },
    afterFit: (s: any) => { s.width = AXIS_W; s.paddingTop = 0; s.paddingBottom = 0; },
    border: { display: false },
    grid: { drawOnChartArea: false, drawTicks: true, tickLength: 4, tickColor: NAVY },
    ticks: { autoSkip: false, padding: 5, color: NAVY, font: { family: FONT, size: 18 }, callback: (v: number) => fmt(Number(v)) },
  };
}

function mainConfig(p: Panel): any {
  const { xMin, xMax } = xBounds(p);
  const color = (c: Candle) => (c[3] >= c[0] ? UP : p.down);
  const datasets: any[] = [];
  p.seps.forEach((i) => datasets.push({ type: "line", data: [{ x: i, y: p.yMin }, { x: i, y: p.yMax }], borderColor: "#101010", borderWidth: 1, borderDash: [3, 3], pointRadius: 0, order: 6 }));
  p.levels.forEach((l) => datasets.push({ type: "line", data: [{ x: l.from ?? xMin, y: l.price }, { x: xMax, y: l.price }], borderColor: l.color, borderWidth: l.width, borderDash: l.dash ?? [], pointRadius: 0, order: 5 }));
  datasets.push({ type: "bar", grouped: false, barThickness: 1, data: p.candles.map((c, i) => ({ x: i, y: [c[2], c[1]] })), backgroundColor: p.candles.map(color), borderWidth: 0, order: 3 });
  datasets.push({ type: "bar", grouped: false, barThickness: p.body, minBarLength: 2, data: p.candles.map((c, i) => ({ x: i, y: [Math.min(c[0], c[3]), Math.max(c[0], c[3])] })), backgroundColor: p.candles.map(color), borderWidth: 0, order: 2 });
  datasets.push({ type: "line", data: p.fast.map((v, i) => ({ x: i, y: v })), borderColor: "#A5391E", borderWidth: 1, pointRadius: 0, tension: 0, order: 1 });
  datasets.push({ type: "line", data: p.slow.map((v, i) => ({ x: i, y: v })), borderColor: "#217A1E", borderWidth: 1, pointRadius: 0, tension: 0, order: 0 });

  const priceBox = {
    id: "priceBox",
    afterDraw(chart: any) {
      const { ctx, chartArea, scales } = chart;
      const box = (price: number, fill: string) => {
        const y = scales.y.getPixelForValue(price);
        ctx.save();
        ctx.fillStyle = fill;
        ctx.fillRect(chartArea.right + 1, y - 11, 81, 22);
        ctx.fillStyle = "#FFFFFF";
        ctx.font = `18px ${FONT}`;
        ctx.textBaseline = "middle";
        ctx.fillText(price.toFixed(5), chartArea.right + 9, y + 1);
        ctx.restore();
      };
      if (p.ask) box(p.ask, "#A9A9A9");
      box(LAST_PRICE, "#0000CD");
    },
  };

  return {
    type: "bar",
    data: { datasets },
    plugins: [priceBox],
    options: {
      animation: false, responsive: false, devicePixelRatio: 1, events: [],
      layout: { padding: 0 },
      plugins: { legend: { display: false }, tooltip: { enabled: false } },
      scales: {
        x: p.sub ? { ...xAxis(p, 0), display: false } : xAxis(p, p.cream.b - (p.plot.y + p.plot.h)),
        y: yAxis(p.yMin, p.yMax, p.yTicks, (v) => v.toFixed(5)),
      },
    },
  };
}

function subConfig(p: Panel): any {
  const sub = p.sub!;
  const rayColors: Record<string, string> = { red: "#FF0000", green: "#00FF00", blue: "#0000FF" };
  const expand = (want: (c: string) => boolean) => {
    const pts: any[] = [];
    const cols: string[] = [];
    sub.ray.filter((r) => want(r[2])).forEach(([a, b, c]) => {
      for (let i = a; i <= b; i++) { pts.push({ x: i, y: [-1, 2] }); cols.push(rayColors[c]); }
    });
    return { pts, cols };
  };
  const rest = expand((c) => c !== "blue");
  const blue = expand((c) => c === "blue");
  const datasets: any[] = [];
  p.seps.forEach((i) => datasets.push({ type: "line", data: [{ x: i, y: -1 }, { x: i, y: 2 }], borderColor: "#101010", borderWidth: 1, borderDash: [3, 3], pointRadius: 0, order: 3 }));
  datasets.push({ type: "bar", label: "rest", grouped: false, barThickness: 9, data: rest.pts, backgroundColor: rest.cols, borderWidth: 0, order: 2 });
  datasets.push({ type: "bar", label: "blue", grouped: false, barThickness: 9, data: blue.pts, backgroundColor: blue.cols, borderWidth: 0, order: 1 });
  const legendText = {
    id: "rayText",
    afterDatasetDraw(chart: any, args: any) {
      if (chart.data.datasets[args.index].label !== "rest") return;
      const { ctx, chartArea } = chart;
      ctx.save();
      ctx.beginPath();
      ctx.rect(chartArea.left, chartArea.top, chartArea.width, chartArea.height);
      ctx.clip();
      ctx.fillStyle = "#3A1290";
      ctx.font = `19.5px ${FONT}`;
      ctx.textBaseline = "middle";
      ctx.fillText(timeRayLegend, chartArea.left + sub.textX, chartArea.top + 17);
      ctx.restore();
    },
  };
  return {
    type: "bar",
    data: { datasets },
    plugins: [legendText],
    options: {
      animation: false, responsive: false, devicePixelRatio: 1, events: [],
      layout: { padding: 0 },
      plugins: { legend: { display: false }, tooltip: { enabled: false } },
      scales: {
        x: xAxis(p, p.cream.b - (sub.y + sub.h)),
        y: yAxis(-1, 2, [1, 0], (v) => String(v)),
      },
    },
  };
}

function ChartCanvas({ cfg, left, top, width, height }: { cfg: () => any; left: number; top: number; width: number; height: number }) {
  const ref = useRef<HTMLCanvasElement>(null);
  useEffect(() => {
    const chart = new Chart(ref.current as HTMLCanvasElement, cfg());
    return () => chart.destroy();
  }, []);
  return <canvas ref={ref} width={width} height={height} style={{ position: "absolute", left, top, width, height, display: "block" }} />;
}

function WindowButton({ left, top, kind, danger }: { left: number; top: number; kind: "min" | "max" | "close"; danger?: boolean }) {
  const glyph = "#F4F6F8";
  return (
    <div style={{ position: "absolute", left, top, width: 67, height: 40, boxSizing: "border-box", border: "1px solid #8296A9", borderRadius: 3,
      background: danger ? "linear-gradient(#DE6C58,#B8301E)" : "linear-gradient(#CCD9E5,#BFCFDE)" }}>
      <svg width={65} height={38} style={{ position: "absolute", left: 0, top: 0 }}>
        {kind === "min" && <rect x={22} y={20} width={21} height={9} fill={glyph} stroke="#55626E" strokeWidth={1.2} />}
        {kind === "max" && <g><rect x={23} y={10} width={19} height={17} fill={glyph} stroke="#55626E" strokeWidth={1.4} /><rect x={28} y={15} width={9} height={6} fill="none" stroke="#55626E" strokeWidth={1.4} /></g>}
        {kind === "close" && !danger && <g fill="none"><path d="M23 10 L42 28 M42 10 L23 28" stroke="#55626E" strokeWidth={6} /><path d="M23 10 L42 28 M42 10 L23 28" stroke="#F4F6F8" strokeWidth={3.4} /></g>}
        {kind === "close" && danger && <path d="M23 10 L42 28 M42 10 L23 28" stroke="#FFFFFF" strokeWidth={5} fill="none" />}
      </svg>
    </div>
  );
}

function WindowFrame({ p }: { p: Panel }) {
  const { win, cream, plot, sub } = p;
  const row2 = win.y > 100;
  const titleY = row2 ? 796 : 39;
  const btnTop = row2 ? 774 : 17;
  const right = cream.r - 1;
  const frame = p.active ? "linear-gradient(#A5BFD9,#A9C3DD)" : "linear-gradient(#C3D2E1,#CAD8E6)";
  return (
    <>
      <div style={{ position: "absolute", left: win.x, top: win.y, width: win.w, height: win.h, boxSizing: "border-box", border: "1px solid #74828F", borderRadius: "6px 6px 0 0", background: frame }} />
      <svg width={28} height={30} style={{ position: "absolute", left: p.titleX - 34, top: titleY - 16 }}>
        <rect x={1} y={1} width={18} height={16} fill="#9CC2E4" stroke="#5E8DB8" />
        <rect x={7} y={9} width={19} height={17} fill="#FFFFFF" stroke="#5E8DB8" />
        <path d="M9 22 L13 15 L17 20 L21 13 L24 19" stroke="#3B73A8" strokeWidth={1.6} fill="none" />
      </svg>
      <div style={{ position: "absolute", left: p.titleX, top: titleY - 15, height: 30, lineHeight: "30px", fontFamily: FONT, fontSize: 22.5, whiteSpace: "nowrap", letterSpacing: -0.2, color: p.active ? "#2A2E33" : "#8E9AA5" }}>{p.title}</div>
      <WindowButton left={right - 205} top={btnTop} kind="min" />
      <WindowButton left={right - 136} top={btnTop} kind="max" />
      <WindowButton left={right - 67} top={btnTop} kind="close" danger={p.active} />
      <div style={{ position: "absolute", left: cream.x, top: cream.y, width: cream.r - cream.x, height: cream.b - cream.y, background: CREAM, boxShadow: "inset 0 1px 0 #7D8893" }} />
    </>
  );
}

function PlotDecor({ p }: { p: Panel }) {
  const { plot, sub } = p;
  const bottom = plot.y + plot.h;
  const cell: React.CSSProperties = { position: "absolute", top: bottom - 15, width: 15, height: 14 };
  return (
    <>
      <div style={{ position: "absolute", left: plot.x, top: plot.y, width: plot.w + 1, height: plot.h + 1, boxSizing: "border-box", border: `1px solid ${NAVY}`, pointerEvents: "none" }} />
      {sub && <div style={{ position: "absolute", left: plot.x, top: sub.y, width: plot.w + 1, height: sub.h + 1, boxSizing: "border-box", border: `1px solid ${NAVY}`, pointerEvents: "none" }} />}
      <svg width={16} height={10} style={{ position: "absolute", left: plot.x + 5, top: plot.y + 10 }}><polygon points="0,1 13,1 6.5,8" fill={NAVY} /></svg>
      <div style={{ position: "absolute", left: plot.x + 28, top: plot.y + 3, height: 24, lineHeight: "24px", fontFamily: FONT, fontSize: 18, color: NAVY, whiteSpace: "nowrap" }}>{p.title}</div>
      <div style={{ position: "absolute", left: p.boxX, top: plot.y + 4, width: 31, height: 28, background: "#B9B9B6", overflow: "hidden" }}>
        <div style={{ fontFamily: FONT, fontSize: 15, lineHeight: "14px", textAlign: "center", color: "#111", whiteSpace: "nowrap", marginLeft: p.tf === "MN1" ? -4 : 0 }}>{p.tf}</div>
        <svg width={31} height={14} style={{ position: "absolute", left: 0, top: 15 }}>
          <polygon points="2,1 13,1 7.5,11" fill="#000" /><polygon points="18,11 29,11 23.5,1" fill="#000" />
        </svg>
      </div>
      <div style={{ ...cell, left: plot.x + 1, background: "#C4C4C0" }}><svg width={15} height={14}><polygon points="2,13 13,13 13,2 5,2 2,6" fill="#111" /></svg></div>
      <div style={{ ...cell, left: plot.x + 16, background: "#C4C4C0", fontFamily: FONT, fontSize: 15, lineHeight: "14px", textAlign: "center", color: "#000" }}>X</div>
      <div style={{ ...cell, left: plot.x + plot.w - 30, background: "#0A7A12", color: "#FFF", fontFamily: FONT, fontSize: 15, lineHeight: "13px", textAlign: "center", fontWeight: 700 }}>-</div>
      <div style={{ ...cell, left: plot.x + plot.w - 15, background: "#C4C4C0", color: "#000", fontFamily: FONT, fontSize: 16, lineHeight: "13px", textAlign: "center", fontWeight: 700 }}>+</div>
    </>
  );
}

function ClippedTags({ plot, tags }: { plot: Panel["plot"]; tags: { text: string; x: number; y: number; color: string }[] }) {
  return (
    <div style={{ position: "absolute", left: plot.x, top: plot.y, width: plot.w, height: plot.h, overflow: "hidden", pointerEvents: "none" }}>
      {tags.map((t, i) => (
        <div key={i} style={{ position: "absolute", left: t.x - plot.x, top: t.y - plot.y, fontFamily: FONT, fontSize: 20, lineHeight: "20px", color: t.color, whiteSpace: "nowrap" }}>{t.text}</div>
      ))}
    </div>
  );
}

const SKY = "#19AEE3";
const m15Tags = [
  { text: "WC", x: 1907, y: 389, color: "#C850C8" }, { text: "DC", x: 1887, y: 400, color: "#5B9FC4" },
  { text: "DC", x: 1887, y: 524, color: "#5B9FC4" }, { text: "WC", x: 1907, y: 570, color: "#C850C8" },
];
const h1Tags = [
  { text: "WC", x: 3073, y: 231, color: "#C850C8" }, { text: "DC", x: 3052, y: 235, color: "#5B9FC4" },
  { text: "DC", x: 3052, y: 295, color: "#5B9FC4" }, { text: "WC", x: 3073, y: 315, color: "#C850C8" },
];

function Annotations() {
  return (
    <svg width={3200} height={1518} style={{ position: "absolute", left: 0, top: 0, pointerEvents: "none" }}>
      <defs>
        <filter id="soft" x="-20%" y="-20%" width="140%" height="140%">
          <feDropShadow dx="1.5" dy="2" stdDeviation="2" floodColor="#000" floodOpacity="0.28" />
        </filter>
      </defs>
      {/* M15 */}
      <polygon points="1814,65 1826,65 1820,75" fill="#A8A8A8" />
      <polygon points="1564.3,390 1616.4,435 1588.6,435 1588.6,480 1539,480 1539,435 1513.6,435" fill="none" stroke="#000" strokeWidth={3} />
      <polygon points="1564,450 1574.6,460 1569,460 1569,473 1559.3,473 1559.3,460 1554,460" fill="rgba(246,244,220,0.75)" stroke="#5B8FB0" strokeWidth={2} />
      <polygon points="1801.4,147 1814,184 1856.4,184 1823.6,207.6 1836,244.6 1801.4,222.4 1767.5,244.6 1779.6,207.6 1746,184 1788.6,184" fill="none" stroke="#000" strokeWidth={3} />
      <path d="M1798 196 L1810 208 M1810 196 L1798 208" stroke="#5B8FB0" strokeWidth={4} />
      <text x={1746} y={276} fontFamily='"DejaVu Sans", sans-serif' fontWeight={700} fontSize={30} fill="#000">+22.2pips</text>
      <text x={817} y={116} fontFamily={FONT} fontSize={42} fill="#6B0F6E">1.8 pips</text>
      {/* H1 */}
      <g filter="url(#soft)" fill="none" stroke={SKY} strokeWidth={6}>
        <ellipse cx={2531.7} cy={386.8} rx={43} ry={28.5} />
        <ellipse cx={2765.7} cy={350} rx={43.5} ry={28.5} />
        <ellipse cx={2906} cy={313.8} rx={43.5} ry={28.5} />
      </g>
      <g filter="url(#soft)" fill={SKY}>
        <polygon points="2578,383 2692,353 2689,347 2717,352 2695,371 2694,363 2578,391" />
        <polygon points="2813,346 2875,326 2870,320 2892,319 2872,340 2876,333 2813,356" />
        {/* Daily */}
        <polygon points="1447,1465 1740,1274 1734,1264 1785,1258 1757,1302 1751,1292" />
      </g>
      {/* H4 */}
      <g filter="url(#soft)">
        <polyline points="2739,1109.5 2812,997 2901,1091.6 2992.7,939" fill="none" stroke="#1FA64A" strokeWidth={9} />
        <polygon points="3015,900.4 2979,929.4 3009,946.4" fill="#1FA64A" />
      </g>
    </svg>
  );
}

export default function App() {
  useEffect(() => {
    document.body.style.margin = "0";
    document.body.style.overflow = "hidden";
  }, []);
  return (
    <div style={{ position: "fixed", left: 0, top: 0, width: 3200, height: 1518, overflow: "hidden", background: "#6E7B87" }}>
      {panels.map((p) => <WindowFrame key={p.key} p={p} />)}
      {panels.map((p) => (
        <React.Fragment key={p.key}>
          <ChartCanvas cfg={() => mainConfig(p)} left={p.plot.x} top={p.plot.y} width={p.plot.w + AXIS_W} height={p.sub ? p.plot.h : p.cream.b - p.plot.y} />
          {p.sub && <ChartCanvas cfg={() => subConfig(p)} left={p.plot.x} top={p.sub.y} width={p.plot.w + AXIS_W} height={p.cream.b - p.sub.y} />}
          <PlotDecor p={p} />
        </React.Fragment>
      ))}
      <ClippedTags plot={panels[1].plot} tags={m15Tags} />
      <ClippedTags plot={panels[2].plot} tags={h1Tags} />
      <Annotations />
      <div lang="ja" style={{ position: "absolute", left: 2690, top: 1132, fontFamily: '"Noto Sans CJK JP", sans-serif', fontSize: 39, lineHeight: "42.6px", letterSpacing: 0.6, color: "#F0246E", whiteSpace: "nowrap", WebkitTextStroke: "0.7px #F0246E", textShadow: "0 0 3px #fff,0 0 3px #fff,0 0 6px #fff,2px 2px 4px rgba(0,0,0,.4)" }}>
        直近高値を上抜け<br />上昇波完成
      </div>
    </div>
  );
}
